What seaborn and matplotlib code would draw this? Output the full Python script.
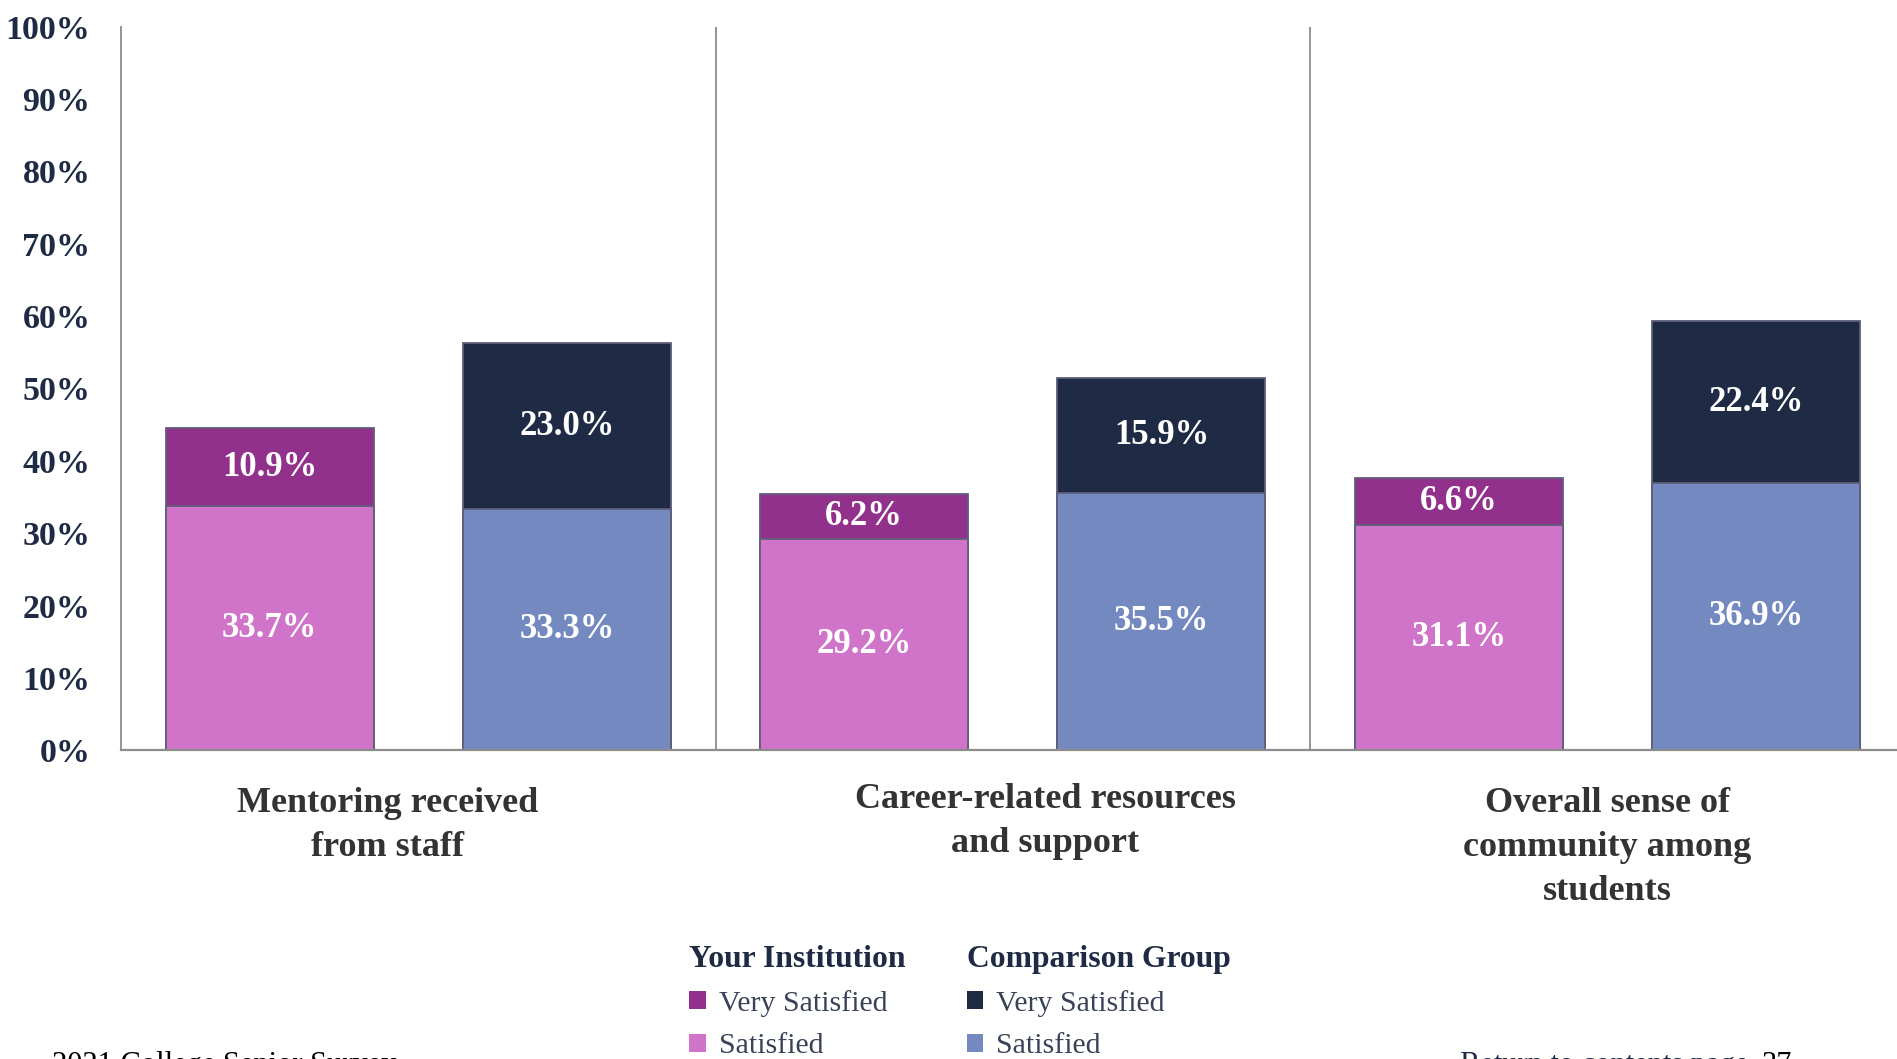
import pandas as pd
import matplotlib.pyplot as plt
import seaborn as sns
from matplotlib.patches import Patch

# values (percent)
kategoriler = ['Mentoring received\nfrom staff',
               'Career-related resources\nand support',
               'Overall sense of\ncommunity among\nstudents']
gruplar = ['Your Institution', 'Comparison Group']
inst_satisfied = [33.7, 29.2, 31.1]
inst_very = [10.9, 6.2, 6.6]
comp_satisfied = [33.3, 35.5, 36.9]
comp_very = [23.0, 15.9, 22.4]

renk_very = {'Your Institution': '#92318C', 'Comparison Group': '#1F2A44'}
renk_sat = {'Your Institution': '#CF74C8', 'Comparison Group': '#7389C0'}
lacivert = '#1F2A44'

# long table for seaborn
satirlar = []
for i, kat in enumerate(kategoriler):
    satirlar.append((kat, gruplar[0], inst_satisfied[i], inst_very[i]))
    satirlar.append((kat, gruplar[1], comp_satisfied[i], comp_very[i]))
df = pd.DataFrame(satirlar, columns=['Kategori', 'Grup', 'Satisfied', 'Very'])
df['Toplam'] = df['Satisfied'] + df['Very']

sns.set_style('white')
plt.rcParams['font.family'] = ['Liberation Serif', 'DejaVu Serif']

fig = plt.figure(figsize=(18.97, 10.59), dpi=100)
ax = fig.add_axes([0.0638, 0.2914, 0.9402, 0.6835])

# stacked look: total bar (very satisfied colour) under the satisfied bar
sns.barplot(data=df, x='Kategori', y='Toplam', hue='Grup', hue_order=gruplar,
            palette=renk_very, saturation=1, width=1.0, gap=0.3,
            edgecolor='#5E5E78', linewidth=1.3, errorbar=None, legend=False, ax=ax)
sns.barplot(data=df, x='Kategori', y='Satisfied', hue='Grup', hue_order=gruplar,
            palette=renk_sat, saturation=1, width=1.0, gap=0.3,
            edgecolor='#5E5E78', linewidth=1.3, errorbar=None, legend=False, ax=ax)

# segment labels
n = len(kategoriler)
for j, g in enumerate(gruplar):
    alt = ax.containers[j + 2]  # satisfied bars
    sat = df[df['Grup'] == g]['Satisfied'].values
    vs = df[df['Grup'] == g]['Very'].values
    for k in range(n):
        p = alt.patches[k]
        xc = p.get_x() + p.get_width() / 2
        ax.text(xc, sat[k] / 2, f'{sat[k]:.1f}%', ha='center', va='center',
                color='white', fontsize=25, fontweight='bold')
        ax.text(xc, sat[k] + vs[k] / 2, f'{vs[k]:.1f}%', ha='center', va='center',
                color='white', fontsize=25, fontweight='bold')

ax.set_xlim(-0.5, 2.5)
ax.set_ylim(0, 100)
ax.set_yticks(range(0, 101, 10))
ax.set_yticklabels([f'{v}%' for v in range(0, 101, 10)], fontsize=24.5,
                   fontweight='bold', color=lacivert)
ax.tick_params(axis='y', length=0, pad=22)
ax.set_xticks([])
ax.set_xlabel('')
ax.set_ylabel('')

for x in [0.5, 1.5]:
    ax.axvline(x, color='#8C8C8C', lw=1.3)
for s in ['top', 'right']:
    ax.spines[s].set_visible(False)
ax.spines['left'].set_color('#8C8C8C')
ax.spines['left'].set_linewidth(1.3)
ax.spines['bottom'].set_color('#8C8C8C')
ax.spines['bottom'].set_linewidth(1.6)

# category labels under each group
kaydir = [-0.051, 0.055, 0.0]
ust_y = [-0.05, -0.045, -0.05]
for i, kat in enumerate(kategoriler):
    ax.text(i + kaydir[i], ust_y[i], kat, transform=ax.get_xaxis_transform(),
            ha='center', va='top', fontsize=26, fontweight='bold',
            color='#333333', linespacing=1.45, multialignment='center')

# two-column legend with group titles
for g, x0 in zip(gruplar, [0.3633, 0.5095]):
    tutamaclar = [Patch(facecolor=renk_very[g], edgecolor='none', label='Very Satisfied'),
                  Patch(facecolor=renk_sat[g], edgecolor='none', label='Satisfied')]
    leg = fig.legend(handles=tutamaclar, title=g, loc='upper left',
                     bbox_to_anchor=(x0, 0.108), frameon=False, fontsize=21.5,
                     title_fontproperties={'weight': 'bold', 'size': 22.8},
                     alignment='left', handlelength=0.55, handleheight=0.55,
                     handletextpad=0.45, labelspacing=0.55, borderpad=0,
                     borderaxespad=0)
    for t in leg.get_texts():
        t.set_color('#3A4258')
    leg.get_title().set_color(lacivert)

# page footer, cut by the bottom edge as in the reference
fig.text(0.0274, 0.0075, '2021 College Senior Survey', ha='left', va='top',
         fontsize=22, color='black')
fig.text(0.7696, 0.0075, 'Return to contents page', ha='left', va='top',
         fontsize=22, color=lacivert)
fig.text(0.9284, 0.0075, '37', ha='left', va='top', fontsize=22, color='black')

fig.savefig('out.png', dpi=100)
